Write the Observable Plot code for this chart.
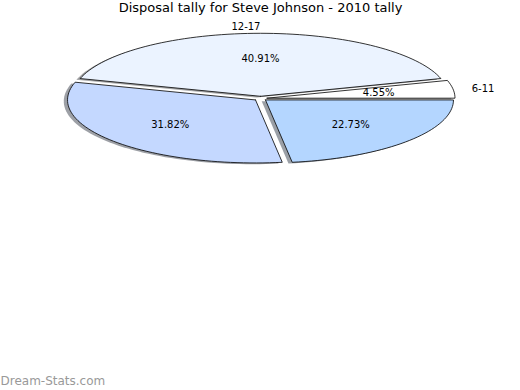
<!DOCTYPE html>
<html>
<head>
<meta charset="utf-8">
<script src="https://cdn.jsdelivr.net/npm/d3@7"></script>
<script src="https://cdn.jsdelivr.net/npm/@observablehq/plot@0.6"></script>
<style>
  html, body { margin: 0; padding: 0; background: #fff; }
  svg { font-family: "DejaVu Sans", sans-serif; }
</style>
</head>
<body>
<div id="chart"></div>
<script>
// Data
const title = "Disposal tally for Steve Johnson - 2010 tally";
const watermark = "Dream-Stats.com";
const categories = ["6-11", "12-17", "", ""];
const percents = [4.55, 40.91, 31.82, 22.73];
const colors = ["#FFFFFF", "#EBF3FF", "#C4D8FF", "#B4D6FF"];

// Geometry (unit-circle coordinates, like a pie in data space)
const explode = 0.035;
const shadowOffset = [-0.02, -0.02];
const total = d3.sum(percents);
let start = 0;
const slices = percents.map((p, i) => {
  const a0 = start;
  const a1 = start + (p / total) * 2 * Math.PI;
  start = a1;
  const mid = (a0 + a1) / 2;
  return {i, p, a0, a1, mid, ox: explode * Math.cos(mid), oy: explode * Math.sin(mid)};
});

function wedge(s, sx = 0, sy = 0) {
  const pts = [];
  const cx = s.ox + sx, cy = s.oy + sy;
  pts.push({i: s.i, x: cx, y: cy});
  const n = Math.max(8, Math.ceil((s.a1 - s.a0) / (Math.PI / 90)));
  for (let k = 0; k <= n; k++) {
    const a = s.a0 + (s.a1 - s.a0) * k / n;
    pts.push({i: s.i, x: cx + Math.cos(a), y: cy + Math.sin(a)});
  }
  pts.push({i: s.i, x: cx, y: cy});
  return pts;
}

const wedgePts = slices.flatMap(s => wedge(s));
const shadowPts = slices.flatMap(s => wedge(s, shadowOffset[0], shadowOffset[1]));
const shadowColors = colors.map(c => {
  const r = d3.rgb(c);
  return d3.rgb(r.r * 0.3, r.g * 0.3, r.b * 0.3).formatHex();
});

const pctLabels = slices.map(s => ({
  x: s.ox + 0.6 * Math.cos(s.mid),
  y: s.oy + 0.6 * Math.sin(s.mid),
  text: s.p.toFixed(2) + "%"
}));
const catLabels = slices.map(s => {
  const x = s.ox + 1.1 * Math.cos(s.mid);
  return {x, y: s.oy + 1.1 * Math.sin(s.mid), text: categories[s.i], anchor: x > 0 ? "start" : "end"};
}).filter(d => d.text !== "");

const chart = Plot.plot({
  width: 520,
  height: 390,
  margin: 0,
  style: {background: "#fff", fontFamily: "DejaVu Sans, sans-serif"},
  x: {domain: [-1, 1], range: [72, 448], axis: null},
  y: {domain: [-1, 1], range: [161, 35], axis: null},
  marks: [
    Plot.line(shadowPts, {x: "x", y: "y", z: "i", fill: d => shadowColors[d.i], fillOpacity: 0.5, stroke: "none", curve: "linear"}),
    Plot.line(wedgePts, {x: "x", y: "y", z: "i", fill: d => colors[d.i], stroke: "#000", strokeWidth: 0.8, strokeLinejoin: "round", curve: "linear"}),
    Plot.text(pctLabels, {x: "x", y: "y", text: "text", fontSize: 10, fill: "#000", textAnchor: "middle", lineAnchor: "middle"}),
    Plot.text(catLabels.filter(d => d.anchor === "start"), {x: "x", y: "y", text: "text", fontSize: 10, fill: "#000", textAnchor: "start", lineAnchor: "middle"}),
    Plot.text(catLabels.filter(d => d.anchor === "end"), {x: "x", y: "y", text: "text", fontSize: 10, fill: "#000", textAnchor: "end", lineAnchor: "middle"}),
    Plot.text([title], {frameAnchor: "top", dx: 0, dy: 2, fontSize: 13, fill: "#000", lineAnchor: "top"}),
    Plot.text([watermark], {frameAnchor: "bottom-left", dx: 0, dy: -6, fontSize: 12, fill: "#999", textAnchor: "start", lineAnchor: "bottom"})
  ]
});
document.getElementById("chart").appendChild(chart);
</script>
</body>
</html>
